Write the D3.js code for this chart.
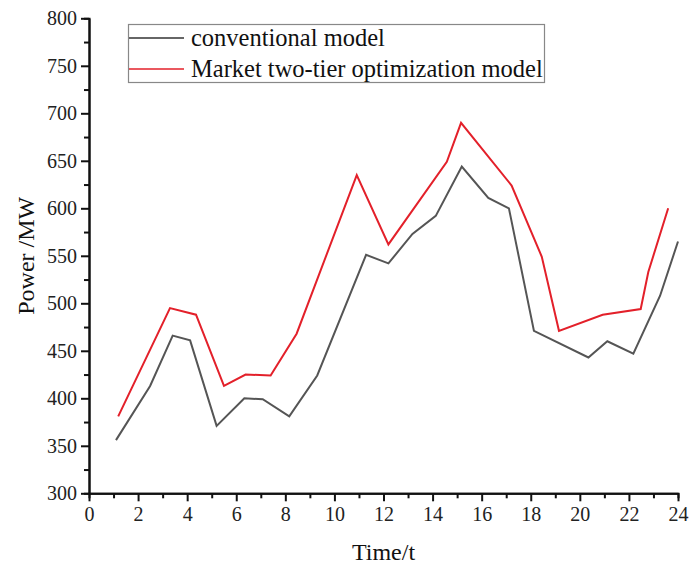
<!DOCTYPE html>
<html>
<head>
<meta charset="utf-8">
<script src="https://cdn.jsdelivr.net/npm/d3@7"></script>
<style>
  body { margin: 0; background: #fff; }
  text { font-family: "Liberation Serif", "Times New Roman", serif; fill: #111; }
</style>
</head>
<body>
<svg width="689" height="568"></svg>
<script>
// series (time, power)
var conv_t = [1.10, 2.49, 3.41, 4.12, 5.20, 6.33, 7.08, 8.16, 9.30, 11.29, 12.20, 13.18, 14.13, 15.19, 16.27, 17.11, 18.13, 20.35, 21.12, 22.18, 23.27, 24.0]
var conv_p = [356, 413, 466, 461, 371, 400, 399, 381, 424, 551, 542, 573, 592, 644, 611, 600, 471, 443, 460, 447, 508, 565]
var mkt_t = [1.19, 3.30, 4.36, 5.50, 6.38, 7.40, 8.46, 10.91, 12.20, 14.58, 15.16, 17.22, 18.45, 19.15, 20.93, 22.48, 22.79, 23.60]
var mkt_p = [381, 495, 488, 413, 425, 424, 468, 635, 562, 649, 690, 624, 549, 471, 488, 494, 533, 600]
var series_names = ["conventional model", "Market two-tier optimization model"]
var series_colors = ["#555555", "#e3202a"]
var x_ticks = [0, 2, 4, 6, 8, 10, 12, 14, 16, 18, 20, 22, 24]
var y_ticks = [300, 350, 400, 450, 500, 550, 600, 650, 700, 750, 800]

var svg = d3.select('svg')
var pLeft = 89, pRight = 678, pTop = 18.3, pBottom = 493.3

var x = d3.scaleLinear().domain([0, 24]).range([pLeft, pRight])
var y = d3.scaleLinear().domain([300, 800]).range([pBottom, pTop])

// minor ticks
var xMinor = d3.range(1, 24, 2)
var yMinor = d3.range(325, 800, 50)

svg.append('g')
    .attr('transform', 'translate(0,' + pBottom + ')')
    .call(d3.axisBottom(x).tickValues(xMinor).tickSize(5).tickFormat(''))
svg.append('g')
    .attr('transform', 'translate(' + pLeft + ',0)')
    .call(d3.axisLeft(y).tickValues(yMinor).tickSize(5).tickFormat(''))

svg.append('g')
    .attr('transform', 'translate(0,' + pBottom + ')')
    .call(d3.axisBottom(x).tickValues(x_ticks).tickSize(8).tickSizeOuter(0).tickPadding(6))
svg.append('g')
    .attr('transform', 'translate(' + pLeft + ',0)')
    .call(d3.axisLeft(y).tickValues(y_ticks).tickSize(8).tickSizeOuter(0).tickPadding(4))

svg.selectAll('.domain, .tick line')
    .style('stroke', '#111')
    .style('stroke-width', 2)
svg.selectAll('.tick text')
    .style('font-family', '"Liberation Serif", serif')
    .style('font-size', '20px')
    .style('fill', '#222')

// axis titles
svg.append('text')
    .attr('x', (pLeft + pRight) / 2)
    .attr('y', 560)
    .attr('text-anchor', 'middle')
    .style('font-size', '24px')
    .text('Time/t')
svg.append('text')
    .attr('transform', 'translate(34,' + (pTop + pBottom) / 2 + ') rotate(-90)')
    .attr('text-anchor', 'middle')
    .style('font-size', '24px')
    .text('Power /MW')

var line = d3.line()
    .x(function(d){ return x(d[0]) })
    .y(function(d){ return y(d[1]) })

var convData = conv_t.map(function(t, i){ return [t, conv_p[i]] })
var mktData = mkt_t.map(function(t, i){ return [t, mkt_p[i]] })

svg.append('path')
    .attr('d', line(convData))
    .style('fill', 'none')
    .style('stroke', series_colors[0])
    .style('stroke-width', 2)
svg.append('path')
    .attr('d', line(mktData))
    .style('fill', 'none')
    .style('stroke', series_colors[1])
    .style('stroke-width', 2)

// legend
var lg = svg.append('g')
lg.append('rect')
    .attr('x', 128.5).attr('y', 24.5)
    .attr('width', 416).attr('height', 58)
    .style('fill', '#fff')
    .style('stroke', '#888')
    .style('stroke-width', 1.2)
series_names.forEach(function(name, i){
    var ly = 38 + i * 31
    lg.append('line')
        .attr('x1', 129).attr('x2', 184)
        .attr('y1', ly).attr('y2', ly)
        .style('stroke', i == 0 ? '#333' : series_colors[1])
        .style('stroke-width', 1.6)
    lg.append('text')
        .attr('x', 191).attr('y', ly + 8)
        .style('font-size', '24.5px')
        .text(name)
})
</script>
</body>
</html>
